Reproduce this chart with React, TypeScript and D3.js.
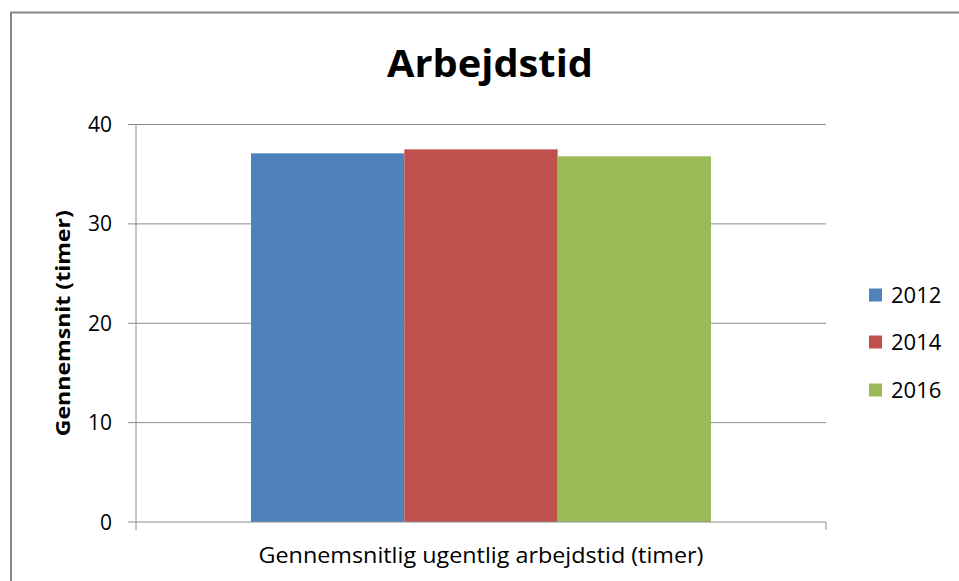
import React from "react";
import * as d3 from "d3";

const title = "Arbejdstid";
const categories = ["Gennemsnitlig ugentlig arbejdstid (timer)"];
const seriesNames = ["2012", "2014", "2016"];
const seriesValues = [37.1, 37.5, 36.8];
const seriesColors = ["#4F81BD", "#C0504D", "#9BBB59"];
const yTicks = [0, 10, 20, 30, 40];
const yTitle = "Gennemsnit (timer)";

const W = 959;
const H = 581;
const plot = { left: 136, right: 826, top: 124.5, bottom: 522 };
const font = "'Open Sans', 'DejaVu Sans', sans-serif";

export default function App() {
  const y = d3.scaleLinear().domain([0, 40]).range([plot.bottom, plot.top]);
  const x0 = d3.scaleBand<string>().domain(categories).range([plot.left, plot.right]).paddingInner(0).paddingOuter(0);
  const catStart = x0(categories[0])!;
  const bw = x0.bandwidth();
  const groupW = (bw * 2) / 3;
  const x1 = d3.scaleBand<string>().domain(seriesNames).range([catStart + (bw - groupW) / 2, catStart + (bw + groupW) / 2]);
  const legendY = [295, 342, 390];

  return (
    <svg width={W} height={H} style={{ position: "absolute", left: 0, top: 0, background: "#fff" }} fontFamily={font}>
      <rect x={0} y={0} width={W} height={H} fill="#fff" />
      <rect x={11} y={12.5} width={W + 20} height={H + 20} fill="none" stroke="#878787" strokeWidth={2} />
      <text x={490} y={77} textAnchor="middle" fontWeight="bold" fontSize={38} textLength={206} lengthAdjust="spacingAndGlyphs">{title}</text>
      {yTicks.map((t) => (
        <g key={t}>
          {t > 0 && <line x1={plot.left} x2={plot.right} y1={y(t)} y2={y(t)} stroke="#8C8C8C" strokeWidth={1} />}
          <line x1={plot.left - 8} x2={plot.left} y1={y(t)} y2={y(t)} stroke="#8C8C8C" strokeWidth={1} />
          <text x={112} y={y(t)} dy="0.36em" textAnchor="end" fontSize={21} fill="#000">{t}</text>
        </g>
      ))}
      {seriesNames.map((s, i) => (
        <rect key={s} x={x1(s)!} y={y(seriesValues[i])} width={x1.bandwidth()} height={y(0) - y(seriesValues[i])} fill={seriesColors[i]} />
      ))}
      <line x1={plot.left} x2={plot.left} y1={plot.top} y2={plot.bottom + 8} stroke="#8C8C8C" strokeWidth={1} />
      <line x1={plot.left} x2={plot.right} y1={plot.bottom} y2={plot.bottom} stroke="#8C8C8C" strokeWidth={1} />
      <line x1={plot.right} x2={plot.right} y1={plot.bottom} y2={plot.bottom + 8} stroke="#8C8C8C" strokeWidth={1} />
      <text x={481} y={563} textAnchor="middle" fontSize={21} fill="#000" textLength={445} lengthAdjust="spacingAndGlyphs">{categories[0]}</text>
      <text transform={`translate(70,${(plot.top + plot.bottom) / 2 + 0}) rotate(-90)`} textAnchor="middle" fontWeight="bold" fontSize={19} textLength={226} lengthAdjust="spacingAndGlyphs">{yTitle}</text>
      {seriesNames.map((s, i) => (
        <g key={s}>
          <rect x={869} y={legendY[i] - 6.5} width={13} height={13} fill={seriesColors[i]} />
          <text x={891} y={legendY[i]} dy="0.36em" fontSize={22} fill="#000">{s}</text>
        </g>
      ))}
    </svg>
  );
}
